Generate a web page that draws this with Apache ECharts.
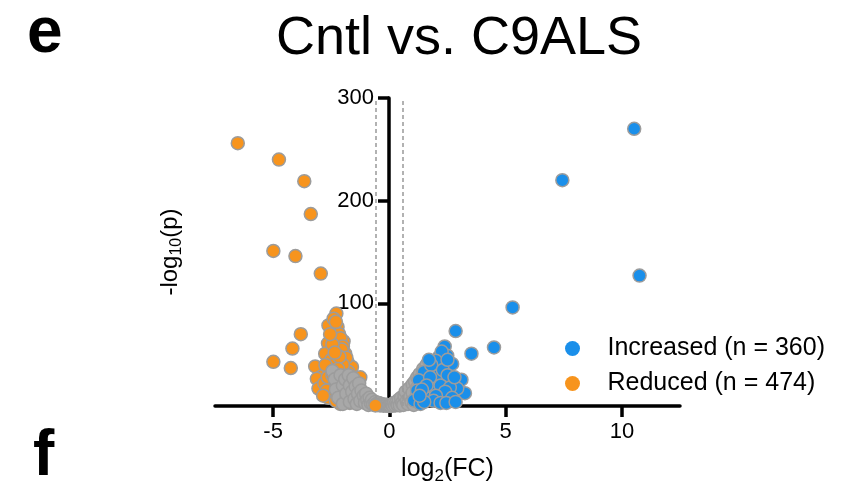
<!DOCTYPE html>
<html>
<head>
<meta charset="utf-8">
<script src="https://cdn.jsdelivr.net/npm/echarts@6/dist/echarts.min.js"></script>
<style>
html,body{margin:0;padding:0;background:#fff;}
#chart{width:856px;height:491px;}
</style>
</head>
<body>
<div id="chart"></div>
<script>
// ---- Data ----
var titleText = 'Cntl vs. C9ALS';
var increasedName = 'Increased (n = 360)';
var reducedName = 'Reduced (n = 474)';
var xTicks = [-5, 0, 5, 10];
var yTicks = [0, 100, 200, 300];
var thresholds = [-0.585, 0.585];

// [log2(FC), -log10(p)]
var reduced = [
  [-6.52,256],[-4.75,240],[-3.66,219],[-3.38,187],[-4.99,151],[-4.04,146],[-2.95,129],
  [-2.28,90],[-2.62,78.5],[-2.23,77],[-2.16,70],[-3.81,70],[-1.97,63],[-2.64,61],
  [-4.17,56],[-1.90,51],[-2.76,51],[-4.99,43],[-4.24,37],[-3.19,38.5],[-1.80,43],
  [-1.61,38],[-2.90,29],[-2.25,32],[-1.97,25],[-3.12,26.5],[-3.05,17],[-2.62,8],
  [-2.11,15],[-1.39,18],[-2.11,2],[-1.25,28],
  [-2.40,85],[-2.30,82],[-2.10,66],[-2.00,58],[-2.05,55],[-1.85,47],[-2.50,45],
  [-2.40,40],[-2.60,36],[-2.35,22],[-2.50,12],[-1.75,33],[-1.70,28],[-2.00,40],
  [-2.15,48],[-2.20,36],[-1.90,20],[-1.60,22],[-2.80,22],[-2.70,15],[-2.30,5],
  [-1.85,8],[-1.50,12],[-1.30,8],[-1.70,3],[-2.45,60],[-2.55,70],[-2.35,52],
  [-2.75,40],[-2.85,10],[-2.65,28],[-2.20,18],[-2.45,30]
];
var reducedNearZero = [[-0.60,0.5]];

var increased = [
  [10.53,270],[7.44,220],[10.76,127],[5.30,96],[2.85,73],[4.50,57],[3.53,51],
  [2.38,58],[2.49,49],[2.70,41],[2.13,47.6],[1.98,38],[2.59,25.6],[3.10,25.6],
  [3.25,12.5],[2.92,17],[2.34,9.3],[1.69,34.6],[1.48,33],[1.84,21.7],[1.26,25],
  [1.55,12],[1.19,15],[1.05,5.4],[1.34,2],[2.13,30],[1.98,17],[1.69,7],
  [2.25,53],[2.00,44],[1.80,40],[2.30,35],[2.50,30],[2.20,20],[2.60,18],[2.80,28],
  [2.40,14],[2.00,10],[2.70,8],[1.75,28],[1.60,20],[1.40,16],[1.90,5],[2.20,3],
  [1.50,4],[2.50,45],[1.70,45],[1.30,10],[2.45,3],[2.85,4]
];

var notSignificant = [
  [-2.45,34],[-2.35,26],[-2.30,16],[-2.20,8],[-2.10,30],[-2.00,20],[-2.00,2],
  [-1.90,26],[-1.85,12],[-1.75,30],[-1.70,20],[-1.70,4],[-1.60,14],[-1.55,27],
  [-1.50,7],[-1.45,19],[-1.40,2],[-1.35,12],[-1.30,22],[-1.25,5],[-1.20,15],
  [-1.10,10],[-1.05,3],[-1.00,12],[-0.95,6],[-0.90,1],[-0.85,8],[-0.80,3],
  [-0.75,6],[-0.70,1.5],[-0.60,4],[-0.55,2],[-0.50,1],[-0.45,3],[-0.40,0.5],
  [-0.35,2],[-0.30,1],[-0.25,0.3],[-0.20,1.5],[-0.15,0.5],[-0.10,1],[-0.05,0.2],
  [0.00,0.5],[0.05,0.1],[0.10,1.5],[0.15,0.4],[0.20,3],[0.25,0.6],[0.30,4],
  [0.35,1],[0.40,6],[0.45,0.5],[0.50,8],[0.55,3],[0.60,1],[0.65,10],[0.70,14],
  [0.75,5],[0.80,2],[0.85,17],[0.90,9],[0.95,4],[1.00,21],[1.00,13],[1.05,1],
  [1.10,24],[1.15,8],[1.20,28],[1.20,18],[1.25,4],[1.30,31],[1.35,22],[1.40,10],
  [1.45,36],[1.50,27],[1.55,16],[1.60,40],[1.65,31],[1.70,22]
];

// ---- Styles ----
var FONT = '"Liberation Sans", Arial, Helvetica, sans-serif';
var BLUE = '#1a8fea';
var ORANGE = '#f7941d';
var GREY = '#a8a8a8';
var EDGE = '#9c9c9c';

var chart = echarts.init(document.getElementById('chart'), null, {renderer: 'canvas'});

var option = {
  backgroundColor: '#fff',
  animation: false,
  textStyle: {fontFamily: FONT},
  title: {
    text: titleText,
    left: 454,
    textAlign: 'center',
    top: 7,
    textStyle: {fontFamily: FONT, fontSize: 54, fontWeight: 'normal', color: '#000'}
  },
  graphic: [
    {type: 'text', left: 27, top: 2, style: {text: 'e', fontFamily: FONT, fontSize: 64, fontWeight: 'bold', fill: '#000'}},
    {type: 'text', left: 33, top: 425, style: {text: 'f', fontFamily: FONT, fontSize: 64, fontWeight: 'bold', fill: '#000'}}
  ],
  legend: {
    data: [increasedName, reducedName],
    orient: 'vertical',
    left: 560,
    top: 331,
    icon: 'circle',
    itemWidth: 44,
    itemHeight: 15,
    itemGap: 10,
    textStyle: {fontFamily: FONT, fontSize: 25, color: '#000', padding: [0,0,0,8]},
    itemStyle: {borderWidth: 0}
  },
  grid: {left: 215, right: 176, top: 98, bottom: 85, containLabel: false, outerBoundsMode: 'none'},
  xAxis: {
    type: 'value',
    min: -7.5,
    max: 12.5,
    name: 'log{sub|2}(FC)',
    nameLocation: 'middle',
    nameGap: 48,
    nameTextStyle: {
      fontFamily: FONT, fontSize: 25, color: '#000',
      rich: {sub: {fontFamily: FONT, fontSize: 17, color: '#000', padding: [14,0,0,0]}}
    },
    axisLine: {show: true, onZero: false, lineStyle: {color: '#000', width: 3.5}},
    axisTick: {show: true, inside: false, length: 11, customValues: xTicks, lineStyle: {color: '#000', width: 3.5}},
    axisLabel: {show: true, customValues: xTicks, margin: 15, fontFamily: FONT, fontSize: 22, color: '#000'},
    splitLine: {show: false}
  },
  yAxis: {
    type: 'value',
    min: 0,
    max: 300,
    interval: 100,
    offset: -174,
    name: '-log{sub|10}(p)',
    nameLocation: 'middle',
    nameGap: 204,
    nameTextStyle: {
      fontFamily: FONT, fontSize: 24, color: '#000',
      rich: {sub: {fontFamily: FONT, fontSize: 16, color: '#000', padding: [14,0,0,0]}}
    },
    axisLine: {show: true, onZero: false, lineStyle: {color: '#000', width: 3.5}},
    axisTick: {show: true, inside: false, length: 11, customValues: yTicks, lineStyle: {color: '#000', width: 3.5}},
    axisLabel: {
      show: true, margin: 15, fontFamily: FONT, fontSize: 22, color: '#000',
      formatter: function (v) { return v === 0 ? '' : String(v); }
    },
    splitLine: {show: false}
  },
  series: [
    {
      name: reducedName,
      type: 'scatter',
      data: reduced,
      symbolSize: 13,
      itemStyle: {color: ORANGE, borderColor: EDGE, borderWidth: 1.5, opacity: 1},
      z: 2
    },
    {
      name: 'NS',
      type: 'scatter',
      data: notSignificant,
      symbolSize: 13,
      itemStyle: {color: GREY, borderColor: EDGE, borderWidth: 1.5, opacity: 1},
      z: 3,
      markLine: {
        silent: true,
        symbol: ['none', 'none'],
        label: {show: false},
        lineStyle: {color: '#999', type: [4, 3], width: 1.5},
        data: thresholds.map(function (t) { return {xAxis: t}; })
      }
    },
    {
      name: increasedName,
      type: 'scatter',
      data: increased,
      symbolSize: 13,
      itemStyle: {color: BLUE, borderColor: EDGE, borderWidth: 1.5, opacity: 1},
      z: 4
    },
    {
      name: reducedName,
      type: 'scatter',
      data: reducedNearZero,
      symbolSize: 13,
      itemStyle: {color: ORANGE, borderColor: EDGE, borderWidth: 1.5, opacity: 1},
      z: 5
    }
  ]
};
chart.setOption(option);
</script>
</body>
</html>
